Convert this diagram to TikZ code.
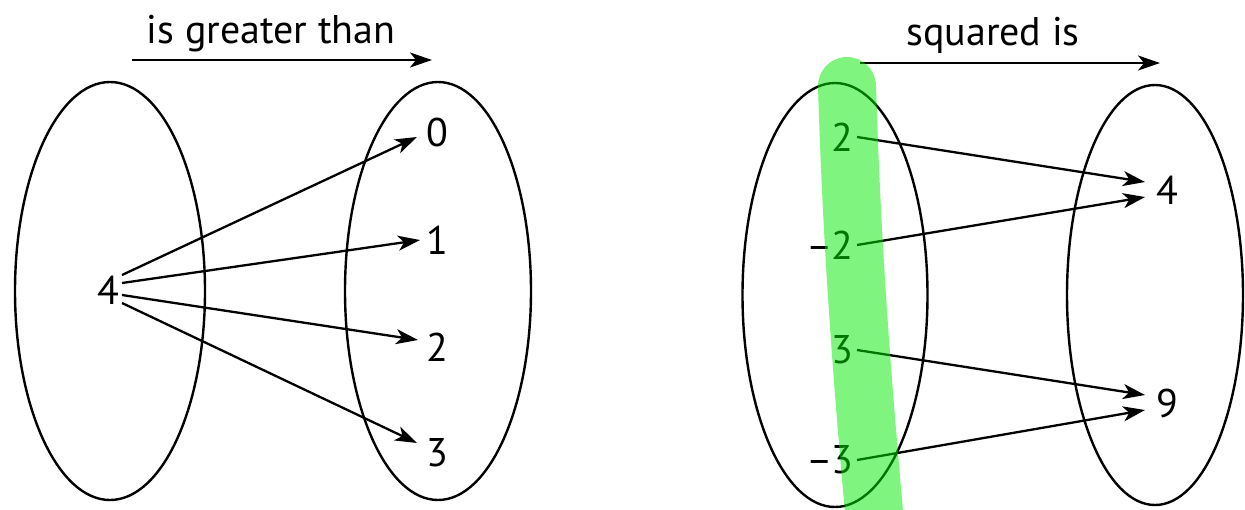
\documentclass[tikz,border=0pt]{standalone}
\usepackage{fontspec}
\setmainfont{PT Sans}
\usetikzlibrary{shapes.geometric,arrows.meta,calc}
\begin{document}
\begin{tikzpicture}[x=1pt,y=-1pt,
  setoval/.style={draw,ellipse,line width=2.4pt,inner sep=0pt},
  lbl/.style={inner sep=0pt,font=\fontsize{40}{46}\selectfont},
  maparrow/.style={line width=2.3pt,-{Stealth[length=22pt,width=15pt,inset=6pt]}},
  hilite/.style={line width=58pt,line cap=round,draw={rgb,255:red,0;green,235;blue,0},opacity=0.5}]
\useasboundingbox (0,0) rectangle (1245,509);
% ellipses
\node[setoval,minimum width=190pt,minimum height=418pt] (E1) at (110,291) {};
\node[setoval,minimum width=186pt,minimum height=418pt] (E2) at (438,291) {};
\node[setoval,minimum width=185pt,minimum height=424pt] (E3) at (835,295) {};
\node[setoval,minimum width=176pt,minimum height=420pt] (E4) at (1155,295) {};
% top relation arrows
\coordinate (t1s) at (132,60);
\coordinate (t1e) at (432,60);
\coordinate (t2s) at (860,63);
\coordinate (t2e) at (1160,63);
\draw[maparrow] (t1s) -- (t1e);
\draw[maparrow] (t2s) -- (t2e);
\node[lbl,anchor=base] (rel1) at (271,43) {is greater than};
\node[lbl,anchor=base] (rel2) at (993,45) {squared is};
% left mapping
\node[lbl] (l4) at (108,290) {4};
\node[lbl] (l0) at (437,132) {0};
\node[lbl] (l1) at (437,240) {1};
\node[lbl] (l2) at (437,347) {2};
\node[lbl] (l3) at (437,453) {3};
\draw[maparrow] ($(l4.center)+(14,-15)$) -- ($(l0.center)+(-20,5)$);
\draw[maparrow] ($(l4.center)+(14,-7)$) -- ($(l1.center)+(-17,0)$);
\draw[maparrow] ($(l4.center)+(14,5)$) -- ($(l2.center)+(-19,-7)$);
\draw[maparrow] ($(l4.center)+(14,13)$) -- ($(l3.center)+(-20,-10)$);
% right mapping
\node[lbl,anchor=east] (a2) at (853,137) {2};
\node[lbl,anchor=east] (am2) at (853,245) {–\kern-2pt2};
\node[lbl,anchor=east] (a3) at (853,350) {3};
\node[lbl,anchor=east] (am3) at (853,460) {–\kern-2pt3};
\node[lbl] (b4) at (1167,190) {4};
\node[lbl] (b9) at (1167,403) {9};
\draw[maparrow] ($(a2.east)+(4,0)$) -- ($(b4.center)+(-22,-8)$);
\draw[maparrow] ($(am2.east)+(4,0)$) -- ($(b4.center)+(-22,7)$);
\draw[maparrow] ($(a3.east)+(4,0)$) -- ($(b9.center)+(-22,-8)$);
\draw[maparrow] ($(am3.east)+(4,0)$) -- ($(b9.center)+(-22,7)$);
% highlighter stroke
\draw[hilite] (847,86) .. controls (852,250) and (862,380) .. (877,545);
\end{tikzpicture}
\end{document}
